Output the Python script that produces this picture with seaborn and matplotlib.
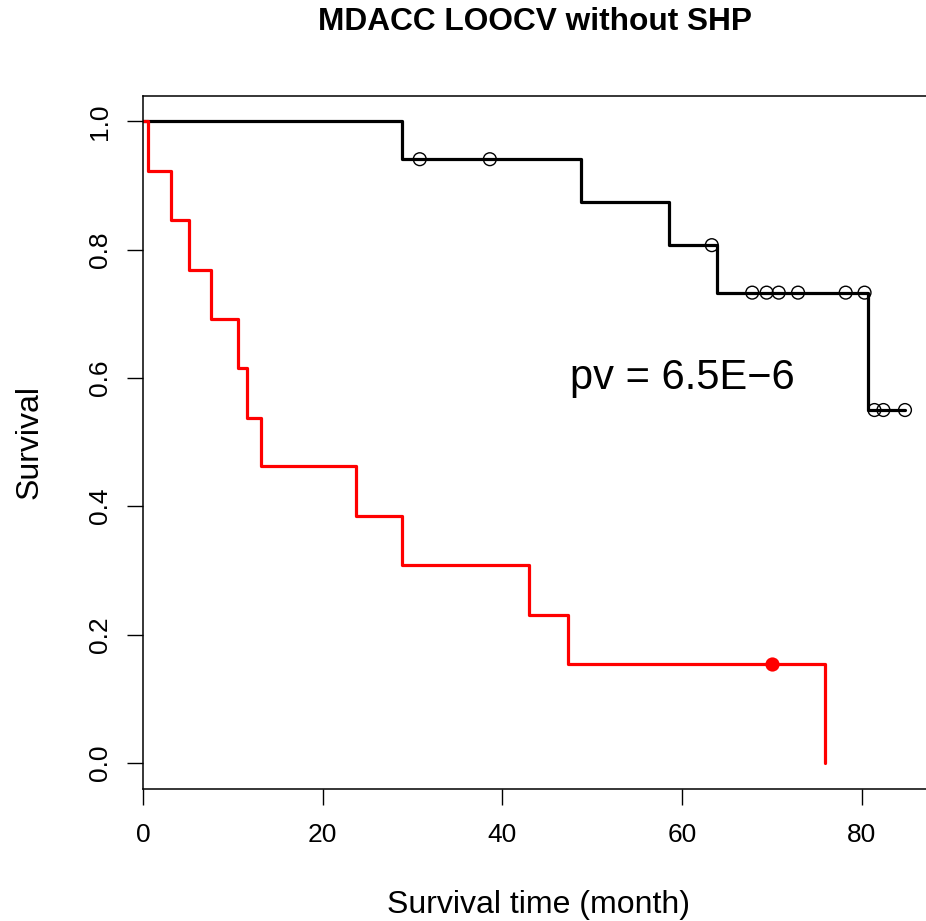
import matplotlib
matplotlib.use("Agg")
import matplotlib.pyplot as plt
import seaborn as sns
import pandas as pd

# ---- data ----
# high-score group (black): step times and survival after each step
black_times = [0.0, 28.8, 48.7, 58.5, 63.85, 80.65, 84.8]
black_surv = [1.0, 0.941, 0.874, 0.807, 0.733, 0.550, 0.550]
black_cens_t = [30.8, 38.6, 63.3, 67.8, 69.4, 70.75, 72.9, 78.2, 80.3, 81.4, 82.4, 84.8]
black_cens_s = [0.941, 0.941, 0.807, 0.733, 0.733, 0.733, 0.733, 0.733, 0.733, 0.550, 0.550, 0.550]

# low-score group (red)
red_times = [0.0, 0.6, 3.1, 5.1, 7.6, 10.6, 11.6, 13.1, 23.7, 28.8, 43.0, 47.3, 75.9]
red_surv = [1.0, 0.923, 0.846, 0.769, 0.692, 0.615, 0.538, 0.462, 0.385, 0.308, 0.231, 0.154, 0.0]
red_cens_t = [70.0]
red_cens_s = [0.154]

x_ticks = [0, 20, 40, 60, 80]
y_ticks = [0.0, 0.2, 0.4, 0.6, 0.8, 1.0]
title = "MDACC LOOCV without SHP"
x_label = "Survival time (month)"
y_label = "Survival"
pv_text = "pv = 6.5E\u22126"

sns.set_theme(style="ticks")
plt.rcParams["font.family"] = ["Liberation Sans", "DejaVu Sans"]
plt.rcParams["text.color"] = "black"
plt.rcParams["axes.labelcolor"] = "black"
plt.rcParams["xtick.color"] = "black"
plt.rcParams["ytick.color"] = "black"

W, H, DPI = 926, 921, 100
fig = plt.figure(figsize=(W / DPI, H / DPI), dpi=DPI)
left_px, right_px, top_px, bot_px = 143, 927, 95.7, 788.5
ax = fig.add_axes([left_px / W, (H - bot_px) / H, (right_px - left_px) / W, (bot_px - top_px) / H])

df_b = pd.DataFrame({"t": black_times, "s": black_surv})
df_r = pd.DataFrame({"t": red_times, "s": red_surv})

sns.lineplot(data=df_b, x="t", y="s", ax=ax, color="black", lw=2.3,
             drawstyle="steps-post", estimator=None, sort=False)
sns.lineplot(data=df_r, x="t", y="s", ax=ax, color="red", lw=2.3,
             drawstyle="steps-post", estimator=None, sort=False)

sns.scatterplot(x=black_cens_t, y=black_cens_s, ax=ax, marker="o", s=85,
                facecolor="none", edgecolor="black", linewidth=1.0, zorder=5)
sns.scatterplot(x=red_cens_t, y=red_cens_s, ax=ax, marker="o", s=105,
                color="red", edgecolor="red", linewidth=0, zorder=5)

ax.text(60, 0.6, pv_text, fontsize=30, ha="center", va="center", color="black")

ax.set_xlim(0, 87.25)
ax.set_ylim(-0.04, 1.04)
ax.set_xticks(x_ticks)
ax.set_xticklabels([str(v) for v in x_ticks])
ax.set_yticks(y_ticks)
ax.set_yticklabels([f"{v:.1f}" for v in y_ticks], rotation=90, va="center")

for sp in ax.spines.values():
    sp.set_visible(True)
    sp.set_linewidth(1.1)
    sp.set_color("black")

ax.tick_params(axis="both", direction="out", length=11.5, width=1.0,
               color="black", labelsize=19, labelcolor="black")
ax.tick_params(axis="x", pad=13)
ax.tick_params(axis="y", pad=11)

ax.set_xlabel(x_label, fontsize=23, color="black")
ax.set_ylabel(y_label, fontsize=23, color="black")
ax.xaxis.set_label_coords(0.505, (H - 905 - (H - bot_px)) / (bot_px - top_px))
ax.xaxis.label.set_va("center")
ax.yaxis.set_label_coords((30 - left_px) / (right_px - left_px), 0.5)
ax.yaxis.label.set_va("center")

ax.set_title(title, fontsize=22.8, fontweight="bold", va="center", color="black",
             y=1 + (top_px - 30) / (bot_px - top_px))

fig.savefig("out.png", dpi=DPI, facecolor="white")
